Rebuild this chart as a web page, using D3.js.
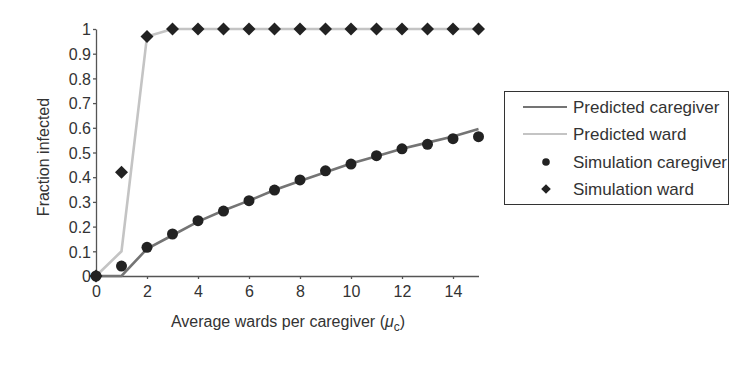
<!DOCTYPE html>
<html><head><meta charset="utf-8">
<script src="https://cdn.jsdelivr.net/npm/d3@7/dist/d3.min.js"></script>
<style>body{margin:0;background:#fff}svg{display:block}text{font-family:Arial,"Liberation Sans",sans-serif;fill:#333}</style>
</head><body><svg id="c" width="750" height="365"></svg>
<script>
const xValues = [0,1,2,3,4,5,6,7,8,9,10,11,12,13,14,15];
const predictedCaregiver = [0,0,0.11,0.165,0.22,0.265,0.305,0.348,0.385,0.42,0.455,0.485,0.515,0.54,0.565,0.595];
const predictedWard = [0,0.1,0.97,1,1,1,1,1,1,1,1,1,1,1,1,1];
const simCaregiver = [0,0.04,0.116,0.17,0.224,0.263,0.305,0.348,0.389,0.426,0.453,0.487,0.515,0.533,0.556,0.564];
const simWard = [0,0.42,0.97,1,1,1,1,1,1,1,1,1,1,1,1,1];
const xTicks = [0,2,4,6,8,10,12,14];
const yTicks = [0,0.1,0.2,0.3,0.4,0.5,0.6,0.7,0.8,0.9,1];
const legendLabels = ["Predicted caregiver","Predicted ward","Simulation caregiver","Simulation ward"];

const svg = d3.select("#c");
const x = d3.scaleLinear().domain([0,15]).range([96,478.5]);
const y = d3.scaleLinear().domain([0,1]).range([276,29]);

// axes
const xAxis = svg.append("g").attr("transform","translate(0,276)")
  .call(d3.axisBottom(x).tickValues(xTicks).tickSize(3).tickSizeOuter(0).tickPadding(7));
const yAxis = svg.append("g").attr("transform","translate(96,0)")
  .call(d3.axisLeft(y).tickValues(yTicks).tickSize(3).tickSizeOuter(0).tickPadding(2).tickFormat(d=>d3.format("")(d)));
[xAxis,yAxis].forEach(a=>{
  a.selectAll("path,line").attr("stroke","#555").attr("stroke-width",1.3);
  a.selectAll("text").attr("font-size",16).attr("fill","#3a3a3a").attr("font-family","Arial, 'Liberation Sans', sans-serif");
});
yAxis.selectAll("text").attr("dy","0.36em");

// lines
const line = arr => d3.line().x((d,i)=>x(xValues[i])).y(d=>y(d))(arr);
svg.append("path").attr("d",line(predictedWard)).attr("fill","none").attr("stroke","#c4c4c4").attr("stroke-width",2.6);
svg.append("path").attr("d",line(predictedCaregiver)).attr("fill","none").attr("stroke","#747474").attr("stroke-width",2.6);

// markers
const diamond = (cx,cy,w,h)=>`M${cx},${cy-h}L${cx+w},${cy}L${cx},${cy+h}L${cx-w},${cy}Z`;
svg.append("g").selectAll("path").data(simWard).join("path")
  .attr("d",(d,i)=>diamond(x(xValues[i]),y(d),6.5,6.5)).attr("fill","#222");
svg.append("g").selectAll("circle").data(simCaregiver).join("circle")
  .attr("cx",(d,i)=>x(xValues[i])).attr("cy",d=>y(d)).attr("r",5.5).attr("fill","#222");

// axis titles
svg.append("text").attr("transform","translate(49,157) rotate(-90)").attr("text-anchor","middle")
  .attr("font-size",16).attr("fill","#3a3a3a").text("Fraction infected");
const xt = svg.append("text").attr("x",288).attr("y",327).attr("text-anchor","middle").attr("font-size",16).attr("fill","#3a3a3a");
xt.append("tspan").text("Average wards per caregiver (");
xt.append("tspan").attr("font-style","italic").text("μ");
xt.append("tspan").attr("font-size",12).attr("dy",4).text("c");
xt.append("tspan").attr("dy",-4).text(")");

// legend
const lg = svg.append("g");
lg.append("rect").attr("x",504.5).attr("y",91.5).attr("width",224).attr("height",113)
  .attr("fill","#fff").attr("stroke","#333").attr("stroke-width",1);
const rowsY = [107,134,162,189];
lg.append("line").attr("x1",523).attr("x2",567).attr("y1",rowsY[0]).attr("y2",rowsY[0]).attr("stroke","#747474").attr("stroke-width",2);
lg.append("line").attr("x1",523).attr("x2",567).attr("y1",rowsY[1]).attr("y2",rowsY[1]).attr("stroke","#c4c4c4").attr("stroke-width",2);
lg.append("circle").attr("cx",546).attr("cy",rowsY[2]).attr("r",3.8).attr("fill","#222");
lg.append("path").attr("d",diamond(546,rowsY[3],4.8,4.8)).attr("fill","#222");
lg.selectAll("text.l").data(legendLabels).join("text").attr("class","l")
  .attr("x",573).attr("y",(d,i)=>rowsY[i]).attr("dy","0.36em").attr("font-size",17).attr("fill","#3a3a3a").text(d=>d);
</script></body></html>
